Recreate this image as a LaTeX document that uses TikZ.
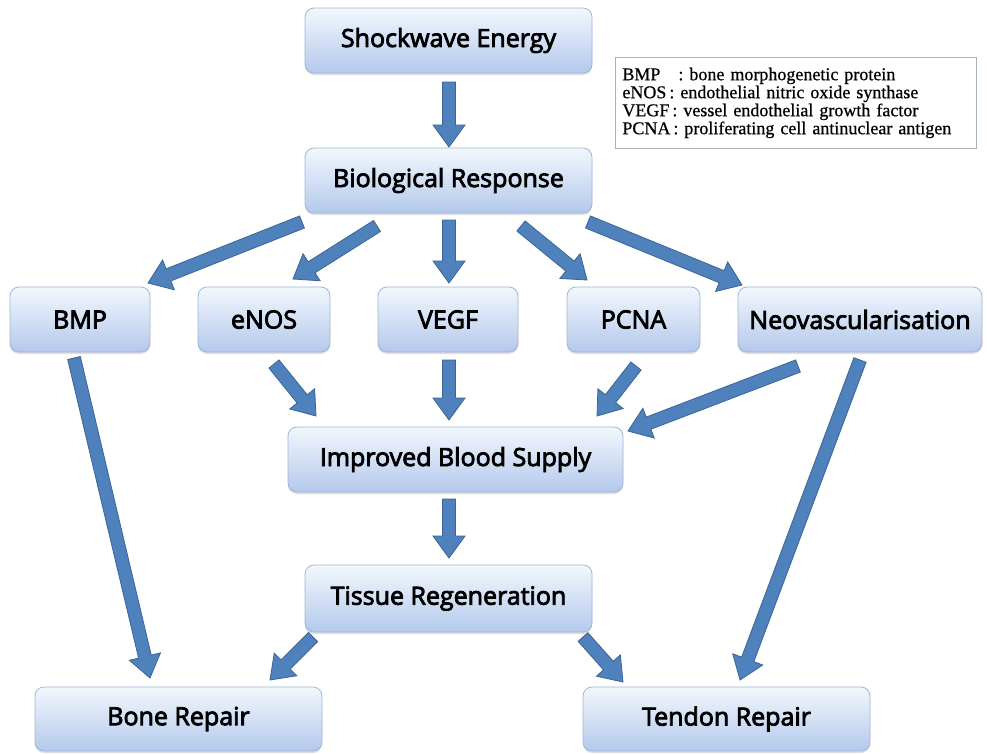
\documentclass[tikz,border=0pt]{standalone}
\usepackage{fontspec}
\setmainfont{Open Sans}
\newfontfamily\boxfont{Open Sans}[FakeBold=3.2]
\newfontfamily\legfont{Liberation Serif}[FakeBold=0.6]
\usetikzlibrary{calc,shadows}
\definecolor{arrowfill}{HTML}{4F81BD}
\definecolor{arrowline}{HTML}{3A6596}
\definecolor{boxtop}{HTML}{F3F7FD}
\definecolor{boxbot}{HTML}{B3C9EC}
\definecolor{boxline}{HTML}{9FB6D8}
\definecolor{legline}{HTML}{A8B2BC}
\tikzset{
  stagebox/.style={rounded corners=9pt, draw=boxline, line width=0.8pt,
    top color=boxtop, bottom color=boxbot, inner sep=0pt,
    font=\boxfont\fontsize{25}{28}\selectfont,
    drop shadow={shadow xshift=0pt, shadow yshift=-2pt, opacity=0.25, fill=gray}},
  blockarrow/.style={fill=arrowfill, draw=arrowline, line width=0.8pt, line join=miter},
  legendbox/.style={draw=legline, line width=0.8pt, fill=white, inner xsep=7pt, inner ysep=0pt,
    minimum width=361pt, minimum height=91pt, text width=347pt,
    align=left, font=\legfont\fontsize{18}{18}\selectfont},
}
\newcommand\bigarrow[2]{%
  \coordinate (neck) at ($(#2)!22pt!(#1)$);
  \draw[blockarrow] ($(#1)!6.5pt!90:(#2)$) -- ($(neck)!6.5pt!90:(#2)$) -- ($(neck)!16pt!90:(#2)$)
    -- (#2) -- ($(neck)!16pt!-90:(#2)$) -- ($(neck)!6.5pt!-90:(#2)$) -- ($(#1)!6.5pt!-90:(#2)$) -- cycle;}
\begin{document}
\begin{tikzpicture}[x=1pt,y=-1pt]
\useasboundingbox[fill=white] (0,0) rectangle (987,753);
% boxes
\node[stagebox, minimum width=287pt, minimum height=65pt] (se) at (448.5,40.5) {Shockwave Energy};
\node[stagebox, minimum width=287pt, minimum height=65pt] (br) at (448.5,180.5) {Biological Response};
\node[stagebox, minimum width=140pt, minimum height=65pt] (bmp) at (80,319.5) {BMP};
\node[stagebox, minimum width=132pt, minimum height=65pt] (enos) at (264,319.5) {eNOS};
\node[stagebox, minimum width=140pt, minimum height=65pt] (vegf) at (448,319.5) {VEGF};
\node[stagebox, minimum width=133pt, minimum height=65pt] (pcna) at (633.5,319.5) {PCNA};
\node[stagebox, minimum width=244pt, minimum height=65pt] (neo) at (860,319.5) {Neovascularisation};
\node[stagebox, minimum width=335pt, minimum height=65pt] (ibs) at (455.5,459.5) {Improved Blood Supply};
\node[stagebox, minimum width=287pt, minimum height=67pt] (tr) at (448.5,598.5) {Tissue Regeneration};
\node[stagebox, minimum width=287pt, minimum height=64pt] (bone) at (178.5,719) {Bone Repair};
\node[stagebox, minimum width=287pt, minimum height=64pt] (tendon) at (726.5,719) {Tendon Repair};
% legend
\node[legendbox, anchor=north west] (leg) at (615,57) {%
BMP\ \ \ : bone morphogenetic protein\\
eNOS\,: endothelial nitric oxide synthase\\
VEGF\,: vessel endothelial growth factor\\
PCNA\,: proliferating cell antinuclear antigen};
% arrow end points
\coordinate (a1t) at (449,82);   \coordinate (a1h) at (449,147);
\coordinate (a2t) at (302,222);  \coordinate (a2h) at (148,283);
\coordinate (a3t) at (377,226);  \coordinate (a3h) at (293,279);
\coordinate (a4t) at (449,220);  \coordinate (a4h) at (449,283);
\coordinate (a5t) at (521,226);  \coordinate (a5h) at (587,280);
\coordinate (a6t) at (588,222);  \coordinate (a6h) at (742,285);
\coordinate (a7t) at (74,358);   \coordinate (a7h) at (150,678);
\coordinate (a8t) at (274,364);  \coordinate (a8h) at (316,416);
\coordinate (a9t) at (449,360);  \coordinate (a9h) at (449,420);
\coordinate (a10t) at (636,366); \coordinate (a10h) at (597,416);
\coordinate (a11t) at (798,366); \coordinate (a11h) at (628,431);
\coordinate (a12t) at (860,360); \coordinate (a12h) at (740,680);
\coordinate (a13t) at (449,499); \coordinate (a13h) at (449,558);
\coordinate (a14t) at (313,637); \coordinate (a14h) at (270,680);
\coordinate (a15t) at (583,637); \coordinate (a15h) at (623,682);
\bigarrow{a1t}{a1h}
\bigarrow{a2t}{a2h}
\bigarrow{a3t}{a3h}
\bigarrow{a4t}{a4h}
\bigarrow{a5t}{a5h}
\bigarrow{a6t}{a6h}
\bigarrow{a7t}{a7h}
\bigarrow{a8t}{a8h}
\bigarrow{a9t}{a9h}
\bigarrow{a10t}{a10h}
\bigarrow{a11t}{a11h}
\bigarrow{a12t}{a12h}
\bigarrow{a13t}{a13h}
\bigarrow{a14t}{a14h}
\bigarrow{a15t}{a15h}
\end{tikzpicture}
\end{document}
